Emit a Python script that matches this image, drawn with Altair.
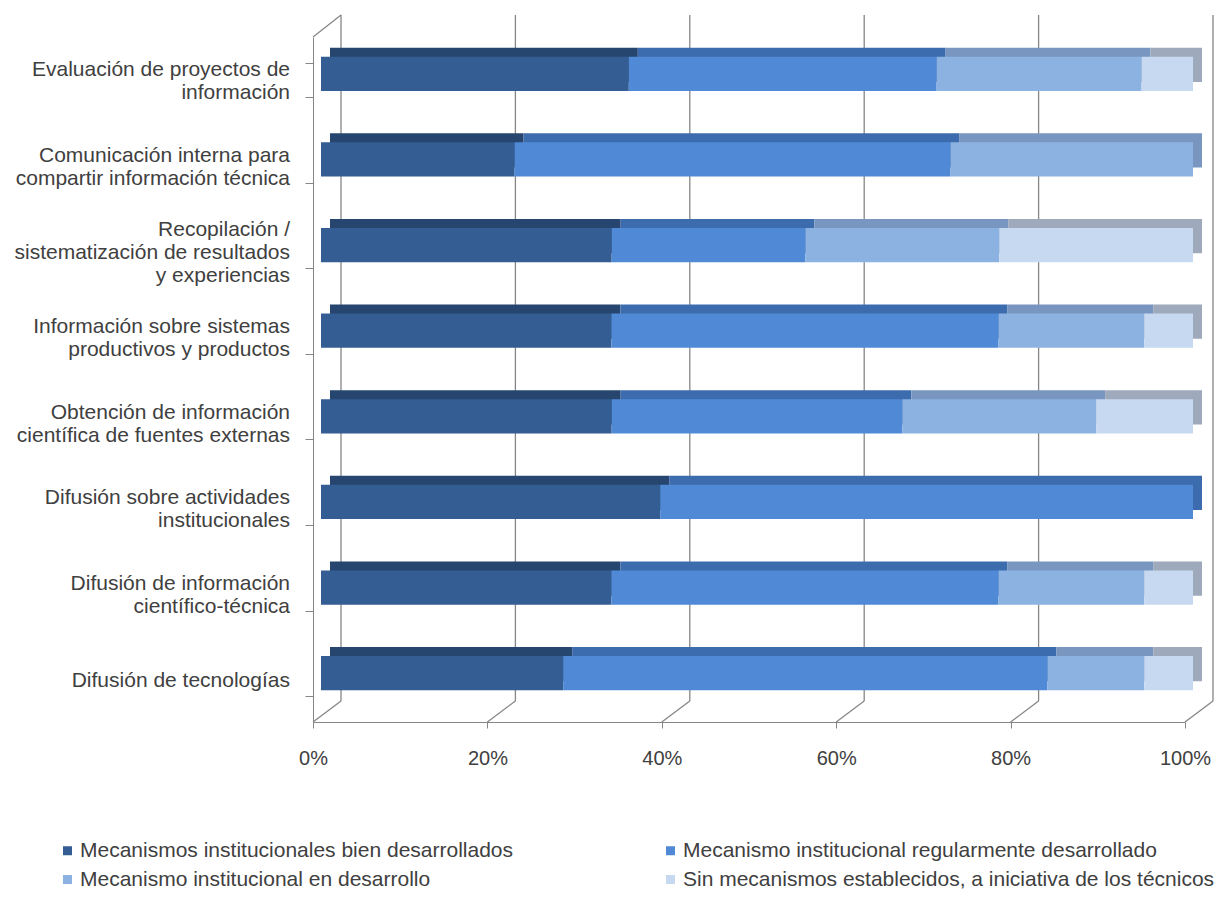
import altair as alt
import pandas as pd

categorias = [
    "Evaluación de proyectos de|información",
    "Comunicación interna para|compartir información técnica",
    "Recopilación /|sistematización de resultados|y experiencias",
    "Información sobre sistemas|productivos y productos",
    "Obtención de información|científica de fuentes externas",
    "Difusión sobre actividades|institucionales",
    "Difusión de información|científico-técnica",
    "Difusión de tecnologías",
]
series = [
    "Mecanismos institucionales bien desarrollados",
    "Mecanismo institucional regularmente desarrollado",
    "Mecanismo institucional en desarrollo",
    "Sin mecanismos establecidos, a iniciativa de los técnicos",
]
bien = [35.3, 22.2, 33.3, 33.3, 33.3, 38.9, 33.3, 27.8]
regular = [35.3, 50.0, 22.2, 44.4, 33.3, 61.1, 44.4, 55.6]
en_desarrollo = [23.5, 27.8, 22.2, 16.7, 22.2, 0.0, 16.7, 11.1]
sin_mecanismos = [5.9, 0.0, 22.2, 5.6, 11.1, 0.0, 5.6, 5.6]
ticks_pct = [0, 0.2, 0.4, 0.6, 0.8, 1.0]

front_colors = ["#335d93", "#5089d6", "#8cb2e1", "#c6d9f0"]
top_colors = ["#26466f", "#3d6cae", "#7896c0", "#9eaabb"]

FONT = "Liberation Sans"
LABEL_SIZE = 21

# Arial / Liberation Sans advance widths (1/1000 em) to centre the label lines
ADV = {" ": 278, "/": 278, "-": 333, ",": 278, "a": 556, "b": 556, "c": 500, "d": 556,
       "e": 556, "f": 278, "g": 556, "h": 556, "i": 222, "j": 222, "k": 500, "l": 222,
       "m": 833, "n": 556, "o": 556, "p": 556, "q": 556, "r": 333, "s": 500, "t": 278,
       "u": 556, "v": 500, "w": 722, "x": 500, "y": 500, "z": 500, "á": 556, "é": 556,
       "í": 278, "ó": 556, "ú": 556, "E": 667, "C": 722, "R": 722, "I": 278, "O": 778,
       "D": 722, "M": 833, "S": 667}


def text_w(s):
    return sum(ADV.get(ch, 556) for ch in s) * LABEL_SIZE / 1000.0


def centred(label):
    lines = label.split("|")
    widths = [text_w(l) for l in lines]
    mw = max(widths)
    nb = 278 * LABEL_SIZE / 1000.0
    out = [l + "\u00a0" * int(round((mw - w) / 2 / nb)) for l, w in zip(lines, widths)]
    return "|".join(out)


rows = []
for si, (s, vals) in enumerate(zip(series, [bien, regular, en_desarrollo, sin_mecanismos])):
    for c, v in zip(categorias, vals):
        rows.append({"categoria": c, "serie": s, "tapa": s + " (cara)", "valor": v, "orden": si})
df = pd.DataFrame(rows)
labels_df = pd.DataFrame({
    "categoria": categorias,
    "etiqueta": [centred(c) for c in categorias],
    "nlineas": [len(c.split("|")) for c in categorias],
})
grid = pd.DataFrame({"p": ticks_pct})

W, H = 872, 685
DX, DY = 28, 21
LH = 23
text_color = "#404040"
line_color = "#868686"

yscale = alt.Scale(domain=categorias, paddingInner=0.6, paddingOuter=0.3)
xscale = alt.Scale(domain=[0, 1])

x_axis = alt.Axis(format="%", values=ticks_pct, grid=False, title=None,
                  labelFontSize=20, labelColor=text_color, labelFont=FONT,
                  tickSize=6, tickColor=line_color, domainColor=line_color,
                  labelPadding=20, labelFlush=False)
y_axis = alt.Axis(title=None, labels=False, tickBand="extent", tickSize=8,
                  tickColor=line_color, domainColor=line_color)

X = lambda: alt.X("valor:Q", stack="normalize", scale=xscale, axis=x_axis)
Y = lambda: alt.Y("categoria:N", scale=yscale, sort=categorias, axis=y_axis)
XP = lambda: alt.X("p:Q", scale=xscale, axis=x_axis)

base = alt.Chart(df)

back = base.mark_bar(xOffset=17, yOffset=-15, strokeWidth=0).encode(
    x=X(), y=Y(),
    fill=alt.Fill("tapa:N", scale=alt.Scale(domain=[s + " (cara)" for s in series], range=top_colors),
                  legend=None),
    order=alt.Order("orden:Q"),
)

front = base.mark_bar(xOffset=8, yOffset=-6).encode(
    x=X(), y=Y(),
    color=alt.Color("serie:N", scale=alt.Scale(domain=series, range=front_colors),
                    legend=alt.Legend(orient="none", legendX=-256, legendY=803, columns=2,
                                      direction="horizontal",
                                      title=None, symbolType="square", symbolSize=81,
                                      symbolStrokeWidth=0, labelFontSize=21,
                                      labelColor=text_color, labelFont=FONT,
                                      labelOffset=2, rowPadding=7, columnPadding=146,
                                      labelLimit=700, padding=0)),
    order=alt.Order("orden:Q"),
)

gridlines = alt.Chart(grid).mark_rule(color=line_color, strokeWidth=1.3, xOffset=DX).encode(
    x=XP(), y=alt.value(-22), y2=alt.value(H - DY),
)
slants = alt.Chart(grid).mark_rule(color=line_color, strokeWidth=1.3, xOffset=DX, x2Offset=0).encode(
    x=XP(), x2=alt.X2("p"), y=alt.value(H - DY), y2=alt.value(H),
)
top_slant = alt.Chart(grid).transform_filter("datum.p == 0").mark_rule(
    color=line_color, strokeWidth=1.3, xOffset=0, x2Offset=DX).encode(
    x=XP(), x2=alt.X2("p"), y=alt.value(0), y2=alt.value(-22),
)

label_layers = []
for n in [1, 2, 3]:
    label_layers.append(
        alt.Chart(labels_df)
        .transform_filter(f"datum.nlineas == {n}")
        .transform_calculate(lineas="split(datum.etiqueta, '|')")
        .mark_text(align="right", baseline="middle", dx=-23, dy=-(n - 1) * LH / 2 + 2,
                   fontSize=LABEL_SIZE, font=FONT, color=text_color, lineHeight=LH)
        .encode(x=alt.value(0), y=Y(), text=alt.Text("lineas:N"))
    )

chart = alt.layer(gridlines, slants, top_slant, back, front, *label_layers).properties(
    width=W, height=H,
    autosize=alt.AutoSizeParams(type="none"),
    padding={"left": 305, "top": 29, "right": 33, "bottom": 172},
    background="white",
).configure_view(stroke=None)

chart.save("out.html", embed_options={"renderer": "svg", "actions": False})
